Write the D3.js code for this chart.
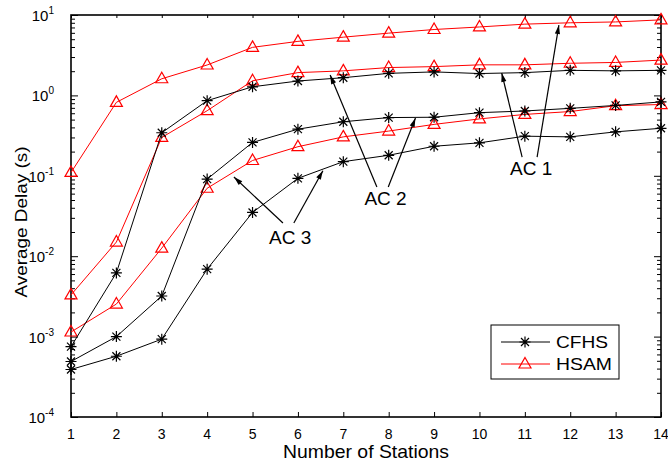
<!DOCTYPE html>
<meta charset="utf-8">
<style>
  body { margin: 0; background: #fff; }
  text { font-family: "Liberation Sans", Arial, sans-serif; }
</style>
<svg width="668" height="463"></svg>
<script src="https://d3js.org/d3.v7.min.js"></script>
<script>
// stations on the x axis
const stations = [1, 2, 3, 4, 5, 6, 7, 8, 9, 10, 11, 12, 13, 14];

// average delay (s)
const hsamAC1 = [0.11, 0.82, 1.61, 2.39, 3.96, 4.7, 5.3, 5.95, 6.6, 7.1, 7.7, 8.0, 8.2, 8.7];
const cfhsAC1 = [0.00075, 0.0062, 0.343, 0.86, 1.28, 1.51, 1.66, 1.88, 1.96, 1.87, 1.92, 2.05, 2.02, 2.05];
const hsamAC2 = [0.0033, 0.015, 0.30, 0.645, 1.52, 1.92, 2.02, 2.22, 2.28, 2.40, 2.40, 2.51, 2.57, 2.75];
const cfhsAC2 = [0.00049, 0.001, 0.0032, 0.091, 0.26, 0.38, 0.47, 0.53, 0.535, 0.61, 0.64, 0.69, 0.75, 0.83];
const hsamAC3 = [0.00114, 0.00254, 0.0126, 0.07, 0.155, 0.23, 0.305, 0.36, 0.436, 0.51, 0.58, 0.63, 0.745, 0.77];
const cfhsAC3 = [0.00039, 0.00057, 0.00093, 0.0069, 0.035, 0.093, 0.15, 0.18, 0.233, 0.257, 0.311, 0.305, 0.352, 0.39];

const yTicks = [1e-4, 1e-3, 1e-2, 1e-1, 1, 10];
const yExp = ["-4", "-3", "-2", "-1", "0", "1"];

// annotations: [label, text pos, arrows [from, to]] in data units
const notes = [
  ["AC 1", [11.14, 0.125], [[[10.94, 0.171], [10.49, 1.90]], [[11.27, 0.171], [11.75, 7.5]]]],
  ["AC 2", [7.93, 0.053], [[[7.74, 0.0727], [6.71, 1.79]], [[7.99, 0.0727], [8.59, 0.523]]]],
  ["AC 3", [5.83, 0.0173], [[[5.67, 0.0259], [4.59, 0.0966]], [[5.91, 0.0259], [6.55, 0.1156]]]]
];

const series = [
  {v: hsamAC1, kind: "HSAM"}, {v: hsamAC2, kind: "HSAM"}, {v: hsamAC3, kind: "HSAM"},
  {v: cfhsAC1, kind: "CFHS"}, {v: cfhsAC2, kind: "CFHS"}, {v: cfhsAC3, kind: "CFHS"}
];
const colour = {CFHS: "#000", HSAM: "#ff0000"};

var svg = d3.select("svg");
var L = 71, R = 661, T = 15, B = 417;

var x = d3.scaleLinear().domain([1, 14]).range([L, R]);
var y = d3.scaleLog().domain([1e-4, 10]).range([B, T]);

// minor log ticks
var minor = [];
for (var e = -4; e < 1; e++) for (var k = 2; k <= 9; k++) minor.push(k * Math.pow(10, e));

var ax = svg.append("g");
ax.append("g").attr("transform", "translate(0," + B + ")")
  .call(d3.axisBottom(x).tickValues(stations).tickSize(-5).tickFormat(""));
ax.append("g").attr("transform", "translate(0," + T + ")")
  .call(d3.axisTop(x).tickValues(stations).tickSize(-3).tickFormat(""));
ax.append("g").attr("transform", "translate(" + L + ",0)")
  .call(d3.axisLeft(y).tickValues(yTicks).tickSize(-7).tickFormat(""));
ax.append("g").attr("transform", "translate(" + L + ",0)")
  .call(d3.axisLeft(y).tickValues(minor).tickSize(-4).tickFormat(""));
ax.append("g").attr("transform", "translate(" + R + ",0)")
  .call(d3.axisRight(y).tickValues(yTicks).tickSize(-7).tickFormat(""));
ax.append("g").attr("transform", "translate(" + R + ",0)")
  .call(d3.axisRight(y).tickValues(minor).tickSize(-4).tickFormat(""));
ax.selectAll(".domain").remove();
ax.selectAll(".tick line").attr("stroke", "#000").attr("stroke-width", 1);

svg.append("rect").attr("x", L).attr("y", T).attr("width", R - L).attr("height", B - T)
  .attr("fill", "none").attr("stroke", "#000").attr("stroke-width", 1.6);

// x labels
svg.append("g").selectAll("text").data(stations).join("text")
  .attr("x", d => x(d)).attr("y", 439).attr("text-anchor", "middle")
  .attr("font-size", 14).text(d => d);

// y labels with superscripts
var yl = svg.append("g").selectAll("text").data(yTicks).join("text")
  .attr("x", 54).attr("y", d => y(d) + 6).attr("text-anchor", "end").attr("font-size", 15);
yl.append("tspan").text("10");
yl.append("tspan").attr("font-size", 10).attr("dy", -7).text((d, i) => yExp[i]);

svg.append("text").attr("x", 366).attr("y", 458).attr("text-anchor", "middle")
  .attr("font-size", 18.5).attr("textLength", 166).attr("lengthAdjust", "spacingAndGlyphs")
  .text("Number of Stations");
svg.append("text").attr("transform", "translate(27,222) rotate(-90)")
  .attr("text-anchor", "middle").attr("font-size", 17)
  .attr("textLength", 151).attr("lengthAdjust", "spacingAndGlyphs").text("Average Delay (s)");

// lines and markers
var line = d3.line().x((d, i) => x(stations[i])).y(d => y(d));
var tri = "M0,-6.5L6,4L-6,4Z";
var star = "M0,-5.5V5.5M-5.5,0H5.5M-4,-4L4,4M-4,4L4,-4";

function marker(g, kind) {
  if (kind === "HSAM") g.append("path").attr("d", tri).attr("fill", "none").attr("stroke", colour.HSAM).attr("stroke-width", 1.2);
  else g.append("path").attr("d", star).attr("stroke", colour.CFHS).attr("stroke-width", 1.2);
}

var plot = svg.append("g");
series.forEach(function(s) {
  plot.append("path").datum(s.v).attr("d", line).attr("fill", "none")
    .attr("stroke", colour[s.kind]).attr("stroke-width", 1);
  plot.selectAll(null).data(s.v).join("g")
    .attr("transform", (d, i) => "translate(" + x(stations[i]) + "," + y(d) + ")")
    .each(function() { marker(d3.select(this), s.kind); });
});

// annotation arrows
function arrow(g, a, b) {
  var x1 = x(a[0]), y1 = y(a[1]), x2 = x(b[0]), y2 = y(b[1]);
  var ang = Math.atan2(y2 - y1, x2 - x1) * 180 / Math.PI;
  g.append("line").attr("x1", x1).attr("y1", y1).attr("x2", x2).attr("y2", y2)
    .attr("stroke", "#000").attr("stroke-width", 1.2);
  g.append("path").attr("d", "M0,0L-9,-2.6L-9,2.6Z").attr("fill", "#000")
    .attr("transform", "translate(" + x2 + "," + y2 + ") rotate(" + ang + ")");
}
var ann = svg.append("g");
notes.forEach(function(n) {
  ann.append("text").attr("x", x(n[1][0])).attr("y", y(n[1][1]) + 7)
    .attr("text-anchor", "middle").attr("font-size", 19).text(n[0]);
  n[2].forEach(a => arrow(ann, a[0], a[1]));
});

// legend
var lg = svg.append("g");
lg.append("rect").attr("x", 491).attr("y", 325).attr("width", 128).attr("height", 54)
  .attr("fill", "#fff").attr("stroke", "#000").attr("stroke-width", 1);
[["CFHS", 52], ["HSAM", 56]].forEach(function(k, i) {
  var yy = 342 + i * 22;
  lg.append("line").attr("x1", 501).attr("x2", 550).attr("y1", yy).attr("y2", yy)
    .attr("stroke", colour[k[0]]).attr("stroke-width", 1);
  marker(lg.append("g").attr("transform", "translate(525," + yy + ")"), k[0]);
  lg.append("text").attr("x", 556).attr("y", yy + 6).attr("font-size", 17)
    .attr("textLength", k[1]).attr("lengthAdjust", "spacingAndGlyphs").text(k[0]);
});
</script>
